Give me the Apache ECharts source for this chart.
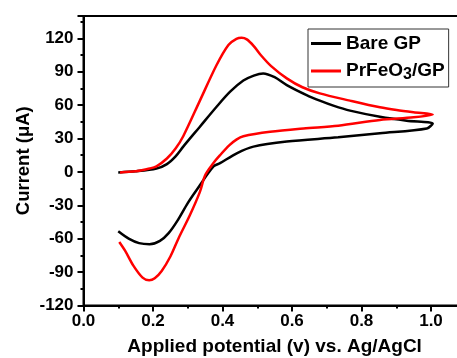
<!DOCTYPE html>
<html>
<head>
<meta charset="utf-8">
<script src="https://cdn.jsdelivr.net/npm/echarts@6/dist/echarts.min.js"></script>
<style>
  html, body { margin: 0; padding: 0; background: #fff; }
  #chart { width: 457px; height: 358px; }
</style>
</head>
<body>
<div id="chart"></div>
<script>
// potential (V) / current (uA); each loop goes 0.1 -> 1.0 -> 0.1
const seriesNames = ["Bare GP", "PrFeO3/GP"];

const bareGP = [
  [0.10, -0.5], [0.15, 0.5], [0.21, 3], [0.24, 7], [0.265, 14], [0.287, 22.7],
  [0.335, 40.6], [0.383, 58.5], [0.422, 72], [0.46, 82], [0.49, 86.5],
  [0.517, 88.4], [0.55, 85], [0.585, 78], [0.642, 69], [0.68, 64], [0.719, 59.5],
  [0.767, 55], [0.853, 49.5], [0.93, 46], [1.005, 43.5],
  [0.988, 39], [0.853, 34.7], [0.733, 31], [0.585, 27.2], [0.489, 22.7],
  [0.441, 16.7], [0.393, 7.8], [0.374, 4.8], [0.326, -16], [0.30, -28],
  [0.27, -44], [0.245, -55], [0.22, -62], [0.19, -65], [0.16, -64],
  [0.13, -60], [0.10, -53.4]
];

const prFeO3GP = [
  [0.105, -0.5], [0.15, 0.5], [0.19, 3], [0.21, 5], [0.24, 12], [0.265, 21],
  [0.287, 32], [0.335, 64], [0.383, 96], [0.417, 114], [0.44, 119.5],
  [0.455, 120.5], [0.47, 119], [0.49, 113], [0.51, 105], [0.54, 95],
  [0.585, 84], [0.63, 76], [0.68, 70.5], [0.767, 64], [0.853, 58], [0.901, 55.5],
  [0.95, 53.5], [1.005, 51.5],
  [0.95, 49], [0.853, 46.6], [0.733, 41.5], [0.633, 39], [0.537, 36], [0.46, 32],
  [0.44, 29], [0.42, 24], [0.393, 15], [0.374, 8], [0.35, -3], [0.335, -18],
  [0.306, -39], [0.273, -60], [0.25, -76], [0.225, -89], [0.205, -95.5],
  [0.189, -97.3], [0.17, -95], [0.143, -84], [0.12, -71], [0.103, -63]
];

const xTicks = { min: 0, max: 1.1, step: 0.2 };
const yTicks = { min: -120, max: 140, step: 30 };

const font = "Arial, 'Liberation Sans', sans-serif";
const chart = echarts.init(document.getElementById("chart"));

chart.setOption({
  animation: false,
  backgroundColor: "#fff",
  grid: {
    left: 83.5, top: 16, right: -8.75, bottom: 52.5,
    outerBoundsMode: "none", containLabel: false,
    show: true, borderColor: "#000", borderWidth: 2, backgroundColor: "transparent"
  },
  legend: {
    orient: "vertical",
    left: 308, top: 29,
    padding: [5, 4, 4, 3],
    icon: "rect",
    itemWidth: 30, itemHeight: 3, itemGap: 6,
    borderColor: "#333", borderWidth: 1,
    data: seriesNames,
    formatter: (name) => name === "PrFeO3/GP" ? "PrFeO{sub|3}/GP" : name,
    textStyle: {
      fontFamily: font, fontWeight: "bold", fontSize: 19, lineHeight: 18, color: "#000",
      rich: {
        sub: { fontFamily: font, fontWeight: "bold", fontSize: 16, lineHeight: 18, color: "#000", padding: [8, 0, 0, 0] }
      }
    }
  },
  xAxis: {
    type: "value",
    min: xTicks.min, max: xTicks.max, interval: xTicks.step,
    name: "Applied potential (v) vs. Ag/AgCl",
    nameLocation: "middle", nameGap: 32,
    nameTextStyle: { fontFamily: font, fontWeight: "bold", fontSize: 19, color: "#000" },
    axisLine: { onZero: false, lineStyle: { color: "#000", width: 2 } },
    axisTick: { length: 6, lineStyle: { color: "#000", width: 2 } },
    minorTick: { show: true, splitNumber: 2, length: 3, lineStyle: { color: "#000", width: 2 } },
    splitLine: { show: false },
    axisLabel: {
      margin: 7, color: "#000", fontFamily: font, fontWeight: "bold", fontSize: 17,
      formatter: (v) => v > 1.05 ? "" : v.toFixed(1)
    }
  },
  yAxis: {
    type: "value",
    min: yTicks.min, max: yTicks.max, interval: yTicks.step,
    name: "Current (\u03bcA)",
    nameLocation: "middle", nameGap: 50, nameMoveOverlap: false,
    nameTextStyle: { fontFamily: font, fontWeight: "bold", fontSize: 18.5, color: "#000" },
    axisLine: { onZero: false, lineStyle: { color: "#000", width: 2 } },
    axisTick: { length: 6, lineStyle: { color: "#000", width: 2 } },
    minorTick: { show: true, splitNumber: 2, length: 3, lineStyle: { color: "#000", width: 2 } },
    splitLine: { show: false },
    axisLabel: {
      margin: 10, color: "#000", fontFamily: font, fontWeight: "bold", fontSize: 17,
      formatter: (v) => v > 125 ? "" : String(v)
    }
  },
  series: [
    {
      name: seriesNames[0], type: "line", data: bareGP,
      symbol: "none", smooth: 0.3,
      lineStyle: { color: "#000", width: 2.5 }, itemStyle: { color: "#000" }
    },
    {
      name: seriesNames[1], type: "line", data: prFeO3GP,
      symbol: "none", smooth: 0.3,
      lineStyle: { color: "#ff0000", width: 2.5 }, itemStyle: { color: "#ff0000" }
    }
  ]
});
</script>
</body>
</html>
